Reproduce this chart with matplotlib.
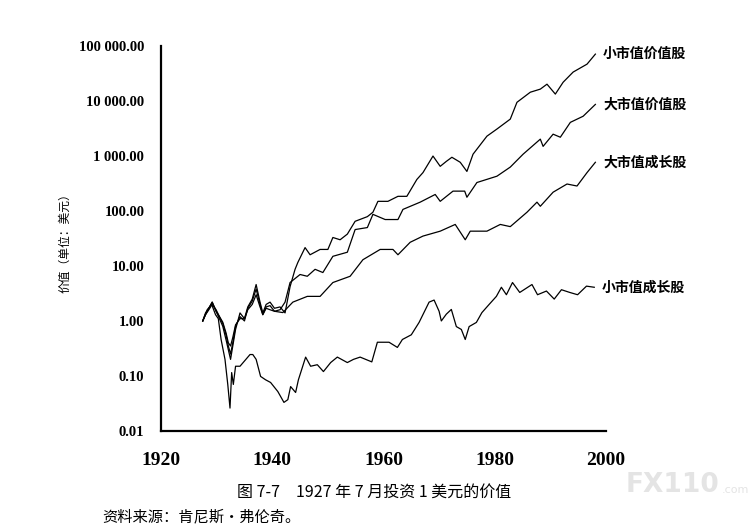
import matplotlib
matplotlib.use("Agg")
import matplotlib.pyplot as plt
from matplotlib.ticker import FixedLocator, FixedFormatter

plt.rcParams['font.family'] = ['Noto Sans CJK SC', 'DejaVu Sans']

# values (dollars, log scale)
sv_years = [1927.5, 1928.0, 1928.6, 1929.2, 1929.9, 1930.5, 1931.1, 1931.7, 1932.1, 1932.5,
            1932.9, 1933.4, 1934.2, 1935.0, 1935.6, 1936.4, 1937.1, 1937.8, 1938.3, 1938.9,
            1939.6, 1940.4, 1941.4, 1942.3, 1943.2, 1944.1, 1944.6, 1945.9, 1946.8, 1948.6,
            1950.0, 1950.9, 1952.2, 1953.5, 1954.9, 1957.1, 1958.1, 1959.0, 1960.8, 1962.6,
            1964.2, 1966.0, 1967.1, 1968.9, 1970.2, 1971.3, 1972.3, 1973.8, 1975.0, 1976.1,
            1978.6, 1980.4, 1982.8, 1984.0, 1986.4, 1988.2, 1989.4, 1990.9, 1992.3, 1994.1,
            1996.6, 1998.1]
small_value = [1.0, 1.4, 1.7, 2.2, 1.5, 1.1, 0.8, 0.45, 0.3, 0.2,
               0.35, 0.7, 1.4, 1.1, 1.8, 2.5, 4.6, 2.2, 1.4, 2.0,
               2.2, 1.7, 1.8, 1.4, 4.2, 8.7, 11.6, 21.6, 16, 20,
               20, 33, 30, 38, 65, 79, 95, 150, 150, 185,
               185, 375, 500, 1000, 650, 800, 950, 770, 525, 1080,
               2300, 3100, 4700, 9500, 14500, 16500, 20300, 13400, 22000, 33700,
               47000, 71500]

lv_years = [1927.5, 1928.0, 1928.6, 1929.2, 1929.9, 1930.5, 1931.1, 1931.7, 1932.1, 1932.5,
            1932.9, 1933.4, 1934.2, 1935.0, 1935.6, 1936.4, 1937.1, 1937.8, 1938.3, 1938.9,
            1939.6, 1940.4, 1941.4, 1942.3, 1943.2, 1945.0, 1946.3, 1947.7, 1949.1, 1950.9,
            1953.5, 1954.9, 1957.1, 1958.1, 1960.3, 1962.6, 1963.5, 1966.6, 1969.3, 1970.2,
            1972.5, 1974.6, 1975.0, 1976.8, 1980.4, 1982.8, 1985.1, 1988.2, 1988.7, 1990.5,
            1991.8, 1993.6, 1995.9, 1998.1]
large_value = [1.0, 1.3, 1.6, 2.0, 1.6, 1.2, 0.9, 0.55, 0.35, 0.25,
               0.4, 0.8, 1.2, 1.0, 1.7, 2.3, 3.8, 2.0, 1.3, 1.8,
               1.9, 1.5, 1.6, 2.2, 5.0, 7.0, 6.5, 8.7, 7.6, 15,
               17.8, 46, 50, 87, 70, 70, 107, 145, 200, 150,
               230, 230, 178, 330, 430, 630, 1080, 2030, 1500, 2500,
               2200, 4100, 5300, 8700]

lg_years = [1927.5, 1928.0, 1928.6, 1929.2, 1929.9, 1930.5, 1931.1, 1931.7, 1932.1, 1932.5,
            1932.9, 1933.4, 1934.2, 1935.0, 1935.6, 1936.4, 1937.1, 1937.8, 1938.3, 1938.9,
            1939.6, 1940.4, 1941.9, 1943.7, 1946.3, 1948.6, 1950.9, 1954.0, 1956.3, 1959.4,
            1961.7, 1962.6, 1964.8, 1967.1, 1970.2, 1972.9, 1974.7, 1975.6, 1978.6, 1981.0,
            1982.8, 1985.8, 1987.6, 1988.2, 1990.5, 1993.0, 1994.8, 1996.6, 1998.1]
large_growth = [1.0, 1.3, 1.7, 2.2, 1.5, 1.2, 0.95, 0.6, 0.4, 0.35,
                0.5, 0.85, 1.1, 1.1, 1.6, 2.0, 3.0, 1.8, 1.3, 1.7,
                1.6, 1.5, 1.42, 2.2, 2.8, 2.8, 5.0, 6.5, 13, 20,
                20, 16, 27, 35, 43, 57, 30, 43, 43, 57,
                52, 95, 145, 122, 220, 310, 285, 500, 770]

sg_years = [1927.5, 1928.3, 1929.1, 1929.8, 1930.3, 1930.8, 1931.5, 1932.0, 1932.4, 1932.7,
            1933.0, 1933.4, 1934.2, 1936.0, 1936.5, 1937.1, 1937.9, 1938.8, 1939.7, 1941.0,
            1942.1, 1942.8, 1943.3, 1944.2, 1944.7, 1946.0, 1946.9, 1948.1, 1949.2, 1950.5,
            1951.7, 1953.5, 1954.6, 1955.8, 1957.9, 1958.9, 1961.0, 1962.5, 1963.4, 1965.0,
            1966.4, 1968.2, 1969.1, 1970.0, 1970.4, 1971.3, 1972.2, 1973.1, 1974.0, 1974.7,
            1975.4, 1976.7, 1977.7, 1979.0, 1980.3, 1981.2, 1982.1, 1983.2, 1984.5, 1986.7,
            1987.7, 1989.3, 1990.7, 1992.0, 1993.5, 1994.9, 1996.5, 1997.9]
small_growth = [1.0, 1.6, 2.0, 1.3, 1.1, 0.46, 0.2, 0.07, 0.026, 0.115,
                0.07, 0.15, 0.15, 0.245, 0.245, 0.2, 0.098, 0.085, 0.076, 0.052,
                0.033, 0.037, 0.064, 0.05, 0.085, 0.22, 0.15, 0.16, 0.12, 0.175,
                0.22, 0.175, 0.2, 0.22, 0.18, 0.41, 0.41, 0.33, 0.46, 0.56,
                0.94, 2.2, 2.4, 1.5, 1.0, 1.33, 1.62, 0.79, 0.7, 0.46,
                0.79, 0.94, 1.42, 2.0, 2.8, 4.1, 3.0, 5.0, 3.3, 4.6,
                3.0, 3.5, 2.5, 3.7, 3.3, 3.0, 4.3, 4.1]

series_labels = ['小市值价值股', '大市值价值股', '大市值成长股', '小市值成长股']

y_ticks = [0.01, 0.1, 1, 10, 100, 1000, 10000, 100000]
y_tick_labels = ['0.01', '0.10', '1.00', '10.00', '100.00', '1 000.00', '10 000.00', '100 000.00']
x_ticks = [1920, 1940, 1960, 1980, 2000]

fig = plt.figure(figsize=(7.49, 5.30), dpi=100)
ax = fig.add_axes([0.215, 0.187, 0.594, 0.726])

all_series = [(sv_years, small_value), (lv_years, large_value),
              (lg_years, large_growth), (sg_years, small_growth)]
for (xs, ys), name in zip(all_series, series_labels):
    ax.plot(xs, ys, color='black', lw=0.9)
    ax.text(xs[-1] + 1.4, ys[-1], name, fontsize=10, fontweight='bold',
            va='center', ha='left', clip_on=False)

ax.set_yscale('log')
ax.set_ylim(0.01, 100000)
ax.set_xlim(1920, 2000)
ax.yaxis.set_major_locator(FixedLocator(y_ticks))
ax.yaxis.set_major_formatter(FixedFormatter(y_tick_labels))
ax.yaxis.set_minor_locator(FixedLocator([]))
ax.set_xticks(x_ticks)
ax.tick_params(length=0)
ax.tick_params(axis='y', pad=12)
ax.tick_params(axis='x', pad=15)
for lab in ax.get_yticklabels():
    lab.set_fontfamily('Liberation Serif')
    lab.set_fontweight('bold')
    lab.set_fontsize(10.5)
for lab in ax.get_xticklabels():
    lab.set_fontfamily('Liberation Serif')
    lab.set_fontweight('bold')
    lab.set_fontsize(14)

for side in ['top', 'right']:
    ax.spines[side].set_visible(False)
for side in ['left', 'bottom']:
    ax.spines[side].set_linewidth(1.6)

fig.text(0.087, 0.547, '价值（单位：美元）', rotation=90, fontsize=8.5,
         ha='center', va='center')
fig.text(0.50, 0.072, '图 7-7　1927 年 7 月投资 1 美元的价值', fontsize=11.5,
         ha='center', va='center')
fig.text(0.137, 0.025, '资料来源：肯尼斯·弗伦奇。', fontsize=11,
         ha='left', va='center')
# faint watermark, kept behind everything
fig.text(0.835, 0.085, 'FX110', fontsize=19, fontweight='bold', color='#e4e4e4',
         ha='left', va='center', family='DejaVu Sans', zorder=-5)
fig.text(0.963, 0.075, '.com', fontsize=8, color='#e4e4e4',
         ha='left', va='center', family='DejaVu Sans', zorder=-5)

fig.savefig('out.png', dpi=100)
